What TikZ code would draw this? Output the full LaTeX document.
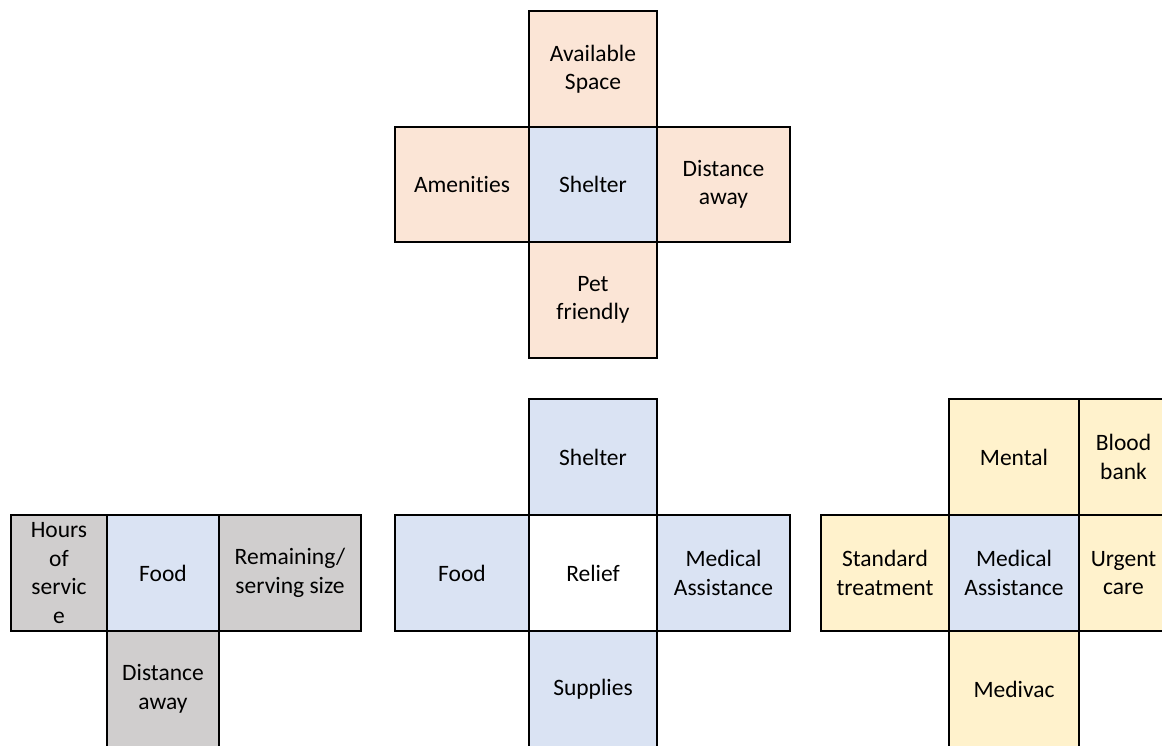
\documentclass[tikz,border=0pt]{standalone}
\usepackage{fontspec}
\setmainfont{Carlito}[RawFeature={-liga;-clig;-dlig}]
\definecolor{peach}{HTML}{FBE5D6}
\definecolor{paleblue}{HTML}{DAE3F3}
\definecolor{palegrey}{HTML}{D0CECE}
\definecolor{paleyellow}{HTML}{FFF2CC}
\begin{document}
\begin{tikzpicture}[x=1pt,y=-1pt,
  cell/.style={draw=black, line width=2pt, rectangle, inner sep=0pt, outer sep=0pt,
    align=center, font=\fontsize{23.5}{28.5}\selectfont, minimum height=116pt},
  pk/.style={cell, fill=peach},
  bl/.style={cell, fill=paleblue},
  gr/.style={cell, fill=palegrey},
  ye/.style={cell, fill=paleyellow},
  wh/.style={cell, fill=white}]
\useasboundingbox (0,0) rectangle (1162,746);
\clip (0,0) rectangle (1162,746);
% top cross
\node[pk, minimum width=128pt] (tav) at (593,69) {Available\\Space};
\node[pk, minimum width=134pt, minimum height=115pt] (tam) at (462,184.5) {Ameni\kern0pt ties};
\node[pk, minimum width=133pt, minimum height=115pt] (tdi) at (723.5,184.5) {Distance\\away};
\node[pk, minimum width=128pt] (tpe) at (593,300) {Pet\\friendly};
\node[bl, minimum width=128pt, minimum height=115pt] (tsh) at (593,184.5) {Shelter};
% food cross
\node[gr, minimum width=96pt] (fho) at (59,573) {Hours\\of\\servic\\e};
\node[gr, minimum width=142pt] (fre) at (290,573) {Remaining/\\serving size};
\node[gr, minimum width=112pt] (fdi) at (163,689) {Distance\\away};
\node[bl, minimum width=112pt] (ffo) at (163,573) {Food};
% relief cross
\node[bl, minimum width=128pt] (rsh) at (593,457) {Shelter};
\node[bl, minimum width=134pt] (rfo) at (462,573) {Food};
\node[bl, minimum width=133pt] (rme) at (723.5,573) {Medical\\Assistance};
\node[bl, minimum width=128pt] (rsu) at (593,689) {Supplies};
\node[wh, minimum width=128pt] (rre) at (593,573) {Relief};
% medical cross
\node[ye, minimum width=128pt] (mst) at (885,573) {Standard\\treatment};
\node[ye, minimum width=89pt] (mur) at (1123.5,573) {Urgent\\care};
\node[ye, minimum width=130pt] (mmn) at (1014,457) {Mental};
\node[ye, minimum width=89pt] (mbl) at (1123.5,457) {Blood\\bank};
\node[ye, minimum width=130pt] (mmv) at (1014,689) {Medivac};
\node[bl, minimum width=130pt] (mme) at (1014,573) {Medical\\Assistance};
\end{tikzpicture}
\end{document}
